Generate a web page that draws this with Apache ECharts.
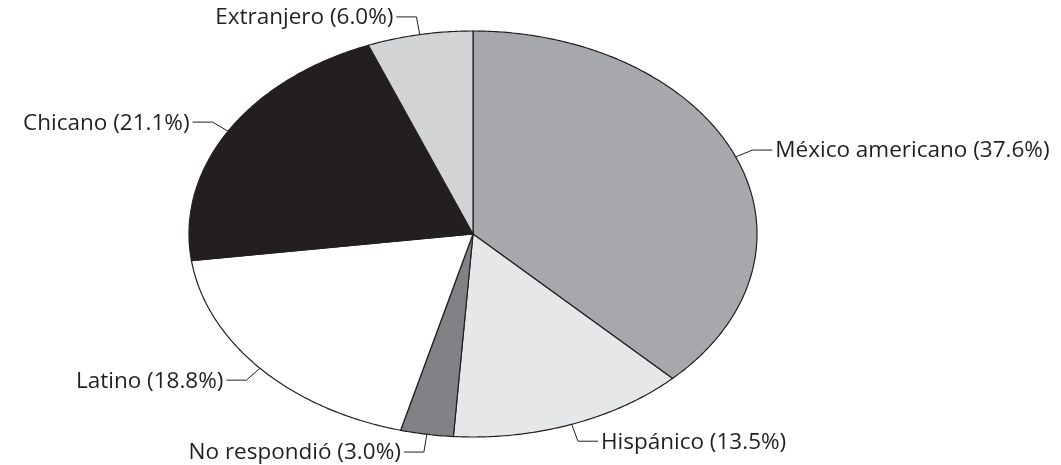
<!DOCTYPE html>
<html>
<head>
<meta charset="utf-8">
<script src="https://cdn.jsdelivr.net/npm/echarts@6/dist/echarts.min.js"></script>
<style>
  html, body { margin: 0; padding: 0; background: #fff; }
  #main { width: 1061px; height: 465px; }
</style>
</head>
<body>
<div id="main"></div>
<script>
// datos de la gráfica (en sentido horario desde arriba)
var categories = ['México americano', 'Hispánico', 'No respondió', 'Latino', 'Chicano', 'Extranjero'];
var percents = [37.6, 13.5, 3.0, 18.8, 21.1, 6.0];
var sliceColors = ['#a7a8ab', '#e6e7e8', '#808285', '#ffffff', '#231f20', '#d1d3d4'];

var myChart = echarts.init(document.getElementById('main'));

var total = percents.reduce(function (a, b) { return a + b; }, 0);
// la torta es una elipse (círculo aplastado)
var cx = 473, cy = 234, rx = 284, ry = 203;

function renderItem(params, api) {
    var i = params.dataIndex;
    var start = 0;
    for (var j = 0; j < i; j++) start += percents[j];
    var a0 = start / total * Math.PI * 2;
    var a1 = (start + api.value(0)) / total * Math.PI * 2;
    var pts = [[cx, cy]];
    var n = Math.max(2, Math.ceil((a1 - a0) / 0.01));
    for (var k = 0; k <= n; k++) {
        var a = a0 + (a1 - a0) * k / n;
        pts.push([cx + rx * Math.sin(a), cy - ry * Math.cos(a)]);
    }
    var mid = (a0 + a1) / 2;
    var p0 = [cx + rx * Math.sin(mid), cy - ry * Math.cos(mid)];
    var p1 = [cx + (rx + 18) * Math.sin(mid), cy - (ry + 18) * Math.cos(mid)];
    var side = Math.sin(mid) >= 0 ? 1 : -1;
    var p2 = [p1[0] + side * 20, p1[1]];
    return {
        type: 'group',
        children: [{
            type: 'polygon',
            shape: { points: pts },
            style: { fill: sliceColors[i], stroke: '#231f20', lineWidth: 1.2 }
        }, {
            type: 'polyline',
            shape: { points: [p0, p1, p2] },
            style: { fill: null, stroke: '#231f20', lineWidth: 1 }
        }, {
            type: 'text',
            x: p2[0] + side * 3,
            y: p2[1] + 1,
            style: {
                text: categories[i] + ' (' + percents[i].toFixed(1) + '%)',
                fill: '#231f20',
                font: '22.5px "Open Sans"',
                align: side > 0 ? 'left' : 'right',
                verticalAlign: 'middle'
            }
        }]
    };
}

var option = {
    animation: false,
    series: [{
        type: 'custom',
        coordinateSystem: 'none',
        renderItem: renderItem,
        data: percents.map(function (v) { return [v]; })
    }]
};
myChart.setOption(option);
</script>
</body>
</html>
